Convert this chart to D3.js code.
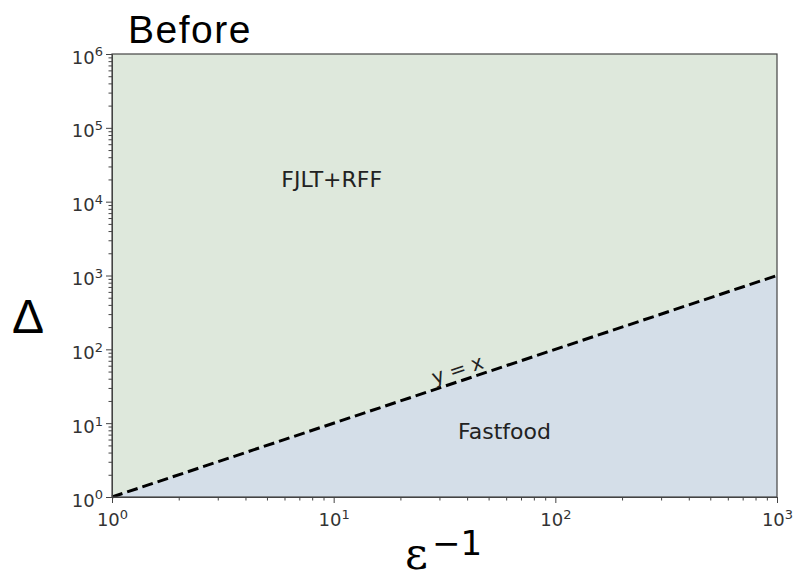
<!DOCTYPE html>
<html lang="en">
  <head>
    <meta charset="UTF-8" />
    <title>Before</title>
    <script src="https://cdn.jsdelivr.net/npm/d3@7"></script>
    <style>
      body { margin: 0; background: #fff; }
      .axis path, .axis line { stroke: #444; }
    </style>
  </head>
  <body>
    <script>
      // decades on each axis
      var xDecades = [0, 1, 2, 3];
      var yDecades = [0, 1, 2, 3, 4, 5, 6];
      // boundary line y = x
      var lineX = [1, 1000];
      var regionLabels = ["FJLT+RFF", "Fastfood"];
      var regionAt = [[9.8, 15800], [59, 6.1]];

      var w = 795, h = 578;
      var mLeft = 112, mRight = 777, mTop = 54, mBottom = 497;

      var svg = d3.select("body").append("svg")
        .attr("width", w)
        .attr("height", h);

      var x = d3.scaleLog().domain([1, 1000]).range([mLeft, mRight]);
      var y = d3.scaleLog().domain([1, 1e6]).range([mBottom, mTop]);

      // upper region (green)
      svg.append("rect")
        .attr("x", mLeft).attr("y", mTop)
        .attr("width", mRight - mLeft).attr("height", mBottom - mTop)
        .attr("fill", "#dee8dc");

      // lower region below y = x (blue)
      svg.append("path")
        .attr("d", "M" + x(lineX[0]) + "," + y(lineX[0]) +
                   "L" + x(lineX[1]) + "," + y(lineX[1]) +
                   "L" + x(lineX[1]) + "," + y(1) + "Z")
        .attr("fill", "#d4dee8");

      // dashed boundary
      svg.append("line")
        .attr("x1", x(lineX[0])).attr("y1", y(lineX[0]))
        .attr("x2", x(lineX[1])).attr("y2", y(lineX[1]))
        .attr("stroke", "#000")
        .attr("stroke-width", 3)
        .attr("stroke-dasharray", "11,5");

      function sup(sel, d) {
        sel.attr("font-family", "DejaVu Sans, sans-serif")
          .attr("font-size", "18px")
          .attr("fill", "#333")
          .text("10");
        sel.append("tspan").attr("dy", "-0.55em").attr("font-size", "13px").text(d);
      }

      function minorTicks(decs) {
        var out = [];
        decs.slice(0, -1).forEach(function(d) {
          for (var k = 2; k <= 9; k++) out.push(k * Math.pow(10, d));
        });
        return out;
      }

      // x axis
      var gx = svg.append("g").attr("class", "axis")
        .attr("transform", "translate(0," + mBottom + ")")
        .call(d3.axisBottom(x).tickValues(xDecades.map(function(d) { return Math.pow(10, d); }))
          .tickSize(6).tickFormat(""));
      gx.selectAll(".tick text").remove();
      gx.selectAll(".tick").append("text")
        .attr("y", 29).attr("text-anchor", "middle")
        .each(function(d, i) { sup(d3.select(this), xDecades[i]); });
      svg.append("g").attr("class", "axis")
        .attr("transform", "translate(0," + mBottom + ")")
        .call(d3.axisBottom(x).tickValues(minorTicks(xDecades)).tickSize(3.5).tickFormat(""))
        .select(".domain").remove();

      // y axis
      var gy = svg.append("g").attr("class", "axis")
        .attr("transform", "translate(" + mLeft + ",0)")
        .call(d3.axisLeft(y).tickValues(yDecades.map(function(d) { return Math.pow(10, d); }))
          .tickSize(6).tickFormat(""));
      gy.selectAll(".tick text").remove();
      gy.selectAll(".tick").append("text")
        .attr("x", -9).attr("y", 9).attr("text-anchor", "end")
        .each(function(d, i) { sup(d3.select(this), yDecades[i]); });
      svg.append("g").attr("class", "axis")
        .attr("transform", "translate(" + mLeft + ",0)")
        .call(d3.axisLeft(y).tickValues(minorTicks(yDecades)).tickSize(3.5).tickFormat(""))
        .select(".domain").remove();

      // frame
      svg.append("rect")
        .attr("x", mLeft).attr("y", mTop)
        .attr("width", mRight - mLeft).attr("height", mBottom - mTop)
        .attr("fill", "none").attr("stroke", "#444").attr("stroke-width", 1.2);

      // region labels
      svg.selectAll(".region")
        .data(regionLabels)
        .enter().append("text")
        .attr("class", "region")
        .attr("x", function(d, i) { return x(regionAt[i][0]); })
        .attr("y", function(d, i) { return y(regionAt[i][1]); })
        .attr("text-anchor", "middle")
        .attr("font-family", "DejaVu Sans, sans-serif")
        .attr("font-size", "22px")
        .attr("fill", "#222")
        .text(function(d) { return d; });

      // y = x label along the line
      var angle = Math.atan2(y(1) - y(1000), x(1000) - x(1)) * 180 / Math.PI;
      svg.append("text")
        .attr("transform", "translate(" + x(37) + "," + (y(37) - 5) + ") rotate(" + (-angle) + ")")
        .attr("text-anchor", "middle")
        .attr("font-family", "DejaVu Sans, sans-serif")
        .attr("font-size", "20px")
        .attr("fill", "#222")
        .text("y = x");

      // title
      svg.append("text")
        .attr("x", 128).attr("y", 43)
        .attr("font-family", "Liberation Sans, Arial, sans-serif")
        .attr("font-size", "39px")
        .attr("letter-spacing", "1.5px")
        .attr("fill", "#000")
        .text("Before");

      // axis titles
      svg.append("text")
        .attr("x", 28).attr("y", 333)
        .attr("text-anchor", "middle")
        .attr("font-family", "Liberation Sans, sans-serif")
        .attr("font-size", "48px")
        .text("\u0394");

      svg.append("text")
        .attr("x", 405).attr("y", 569)
        .attr("font-family", "DejaVu Serif, serif")
        .attr("font-size", "44px")
        .text("\u03b5");
      svg.append("text")
        .attr("x", 432).attr("y", 555)
        .attr("font-family", "DejaVu Sans, sans-serif")
        .attr("font-size", "34px")
        .text("\u22121");
    </script>
  </body>
</html>
